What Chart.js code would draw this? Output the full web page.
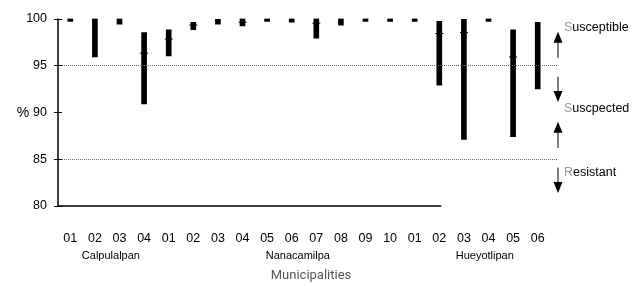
<!DOCTYPE html>
<html>
<head>
<meta charset="utf-8">
<script src="https://cdn.jsdelivr.net/npm/chart.js@4/dist/chart.umd.min.js"></script>
<style>
  html, body { margin: 0; padding: 0; background: #fff; }
  #wrap { width: 641px; height: 286px; position: relative; }
</style>
</head>
<body>
<div id="wrap"><canvas id="chart"></canvas></div>
<script>
// populations (site codes) along the x axis
const sites = ['01', '02', '03', '04', '01', '02', '03', '04', '05', '06', '07', '08', '09', '10', '01', '02', '03', '04', '05', '06'];
// mortality range per population (%): low / high
const lowVals  = [99.7, 95.9, 99.4, 90.9, 96.0, 98.8, 99.4, 99.2, 99.7, 99.6, 97.9, 99.3, 99.7, 99.7, 99.7, 92.9, 87.1, 99.7, 87.4, 92.5];
const highVals = [100, 100, 100, 98.5, 98.8, 99.6, 99.9, 100, 100, 100, 100, 100, 100, 100, 100, 99.7, 99.9, 100, 98.8, 99.6];
// mean marks (null where none is visible)
const meanVals = [null, null, null, 96.3, 97.8, 99.3, null, 99.6, null, null, 99.5, null, null, null, null, 98.4, 98.5, null, 95.9, null];

const municipalities = ['Calpulalpan', 'Nanacamilpa', 'Hueyotlipan'];
const municipalityPos = [1.65, 9.25, 16.85];   // label anchor, in category index units

const yTicks = [80, 85, 90, 95, 100];
const thresholds = [95, 85];
const zoneNames = ['Susceptible', 'Suscpected', 'Resistant'];
const zoneNameVals = [99.0, 90.4, 83.6];
// arrows: [from, to] in %
const zoneArrows = [[95.8, 98.6], [93.8, 91.1], [86.2, 89.0], [84.1, 81.4]];

const sans = '"Liberation Sans", Arial, sans-serif';

const ranges = lowVals.map((v, i) => [v, highVals[i]]);

function arrow(ctx, x, y0, y1) {
    const dir = y1 < y0 ? -1 : 1;
    ctx.beginPath();
    ctx.moveTo(x, y0);
    ctx.lineTo(x, y1 - dir * 9);
    ctx.stroke();
    ctx.beginPath();
    ctx.moveTo(x, y1);
    ctx.lineTo(x - 4.5, y1 - dir * 11);
    ctx.lineTo(x + 4.5, y1 - dir * 11);
    ctx.closePath();
    ctx.fill();
}

const extras = {
    id: 'extras',
    afterDraw(chart) {
        const ctx = chart.ctx;
        const area = chart.chartArea;
        const x = chart.scales.x;
        const y = chart.scales.y;
        ctx.save();

        // dotted threshold lines
        ctx.strokeStyle = '#666';
        ctx.lineWidth = 1;
        ctx.setLineDash([1, 1]);
        thresholds.forEach(t => {
            const py = Math.round(y.getPixelForValue(t)) + 0.5;
            ctx.beginPath();
            ctx.moveTo(area.left, py);
            ctx.lineTo(area.right + 8, py);
            ctx.stroke();
        });
        ctx.setLineDash([]);

        // axes
        ctx.strokeStyle = '#000';
        ctx.lineWidth = 1.5;
        ctx.beginPath();
        ctx.moveTo(area.left, area.top);
        ctx.lineTo(area.left, area.bottom);
        ctx.lineTo(x.getPixelForValue(15) + 2, area.bottom);
        ctx.stroke();
        ctx.lineWidth = 1;
        yTicks.forEach(t => {
            const py = Math.round(y.getPixelForValue(t)) + 0.5;
            ctx.beginPath();
            ctx.moveTo(area.left - 4, py);
            ctx.lineTo(area.left + 4, py);
            ctx.stroke();
        });

        // y title
        ctx.fillStyle = '#000';
        ctx.font = '14px ' + sans;
        ctx.textAlign = 'center';
        ctx.textBaseline = 'middle';
        ctx.fillText('%', 23, y.getPixelForValue(90) + 1);

        // municipality names
        ctx.font = '11px ' + sans;
        municipalities.forEach((m, i) => {
            ctx.fillText(m, x.getPixelForValue(municipalityPos[i]), 256);
        });
        ctx.fillStyle = '#555';
        ctx.font = '13px Roboto, sans-serif';
        ctx.fillText('Municipalities', (area.left + area.right) / 2 + 7, 276);

        // zone arrows
        ctx.strokeStyle = '#000';
        ctx.fillStyle = '#000';
        ctx.lineWidth = 1;
        const ax = area.right + 8;
        zoneArrows.forEach(a => arrow(ctx, ax, y.getPixelForValue(a[0]), y.getPixelForValue(a[1])));

        // zone names, first letter grey
        ctx.font = '12.5px ' + sans;
        ctx.textAlign = 'left';
        zoneNames.forEach((name, i) => {
            const py = y.getPixelForValue(zoneNameVals[i]);
            const tx = area.right + 14;
            ctx.fillStyle = '#999';
            ctx.fillText(name[0], tx, py);
            ctx.fillStyle = '#000';
            ctx.fillText(name.slice(1), tx + ctx.measureText(name[0]).width, py);
        });
        ctx.restore();
    }
};

new Chart(document.getElementById('chart'), {
    type: 'bar',
    data: {
        labels: sites,
        datasets: [
            {
                type: 'line',
                data: meanVals,
                showLine: false,
                pointStyle: 'line',
                pointRadius: 4,
                pointBorderWidth: 1,
                borderColor: '#000',
                backgroundColor: '#000'
            },
            {
                data: ranges,
                backgroundColor: '#000',
                barThickness: 5,
                borderSkipped: false
            }
        ]
    },
    options: {
        responsive: true,
        maintainAspectRatio: false,
        animation: false,
        layout: { padding: { top: 15, right: 91, left: 0, bottom: 0 } },
        plugins: {
            legend: { display: false },
            tooltip: { enabled: false }
        },
        scales: {
            x: {
                offset: true,
                grid: { display: false, drawTicks: false },
                border: { display: false },
                ticks: {
                    color: '#000',
                    font: { family: sans, size: 12.5 },
                    padding: 25,
                    maxRotation: 0,
                    autoSkip: false
                },
                afterFit: s => { s.height = 80; }
            },
            y: {
                min: 80,
                max: 100,
                afterBuildTicks: s => { s.ticks = yTicks.map(v => ({ value: v })); },
                grid: { display: false, drawTicks: false },
                border: { display: false },
                ticks: {
                    color: '#000',
                    font: { family: sans, size: 12.5 },
                    padding: 11
                },
                afterFit: s => { s.width = 58; }
            }
        }
    },
    plugins: [extras]
});
</script>
</body>
</html>
